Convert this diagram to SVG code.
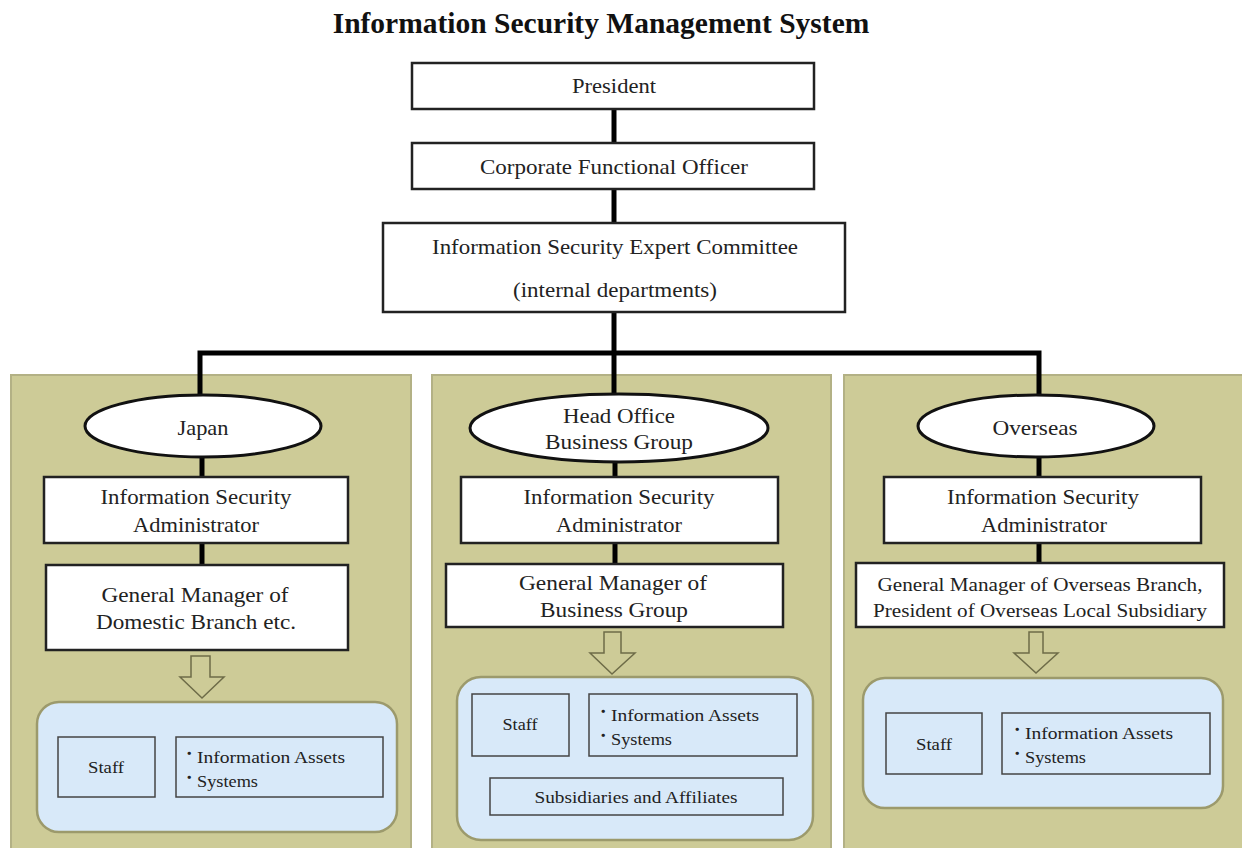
<svg xmlns="http://www.w3.org/2000/svg" width="1242" height="848" viewBox="0 0 1242 848">
<style>
text{font-family:"Liberation Serif","Times New Roman",serif;fill:#222;text-anchor:middle}
.title{font-size:29.5px;font-weight:bold;fill:#111}
.t{font-size:21px}
.s{font-size:17px}
.b{font-size:17px;font-family:"Noto Sans CJK JP","Liberation Serif",serif;text-anchor:start;font-weight:bold}
.gm{font-size:19px}
.box{fill:#fff;stroke:#222;stroke-width:2.5}
.panel{fill:#cdcb97;stroke:#b3b185;stroke-width:2}
.ell{fill:#fff;stroke:#111;stroke-width:3}
.blue{fill:#d8e9f9;stroke:#9c9a6c;stroke-width:2.5}
.inner{fill:#d8e9f9;stroke:#444;stroke-width:1.5}
.arrow{fill:#cdcb97;stroke:#6e6c48;stroke-width:1.5}
.conn{stroke:#000;stroke-width:5;fill:none}
.l{text-anchor:start}
</style>
<rect width="1242" height="848" fill="#fff"/>
<text class="title" x="601" y="33">Information Security Management System</text>

<g id="panels">
<rect class="panel" x="11" y="375" width="400" height="480"/>
<rect class="panel" x="432" y="375" width="399" height="480"/>
<rect class="panel" x="844" y="375" width="405" height="480"/>
</g>

<g id="connectors">
<line class="conn" x1="614" y1="108" x2="614" y2="143"/>
<line class="conn" x1="614" y1="189" x2="614" y2="223"/>
<line class="conn" x1="614" y1="312" x2="614" y2="395"/>
<polyline class="conn" points="200,395 200,353 1039,353 1039,395"/>
<line class="conn" x1="202" y1="457" x2="202" y2="477"/>
<line class="conn" x1="202" y1="543" x2="202" y2="565"/>
<line class="conn" x1="615" y1="462" x2="615" y2="477"/>
<line class="conn" x1="615" y1="543" x2="615" y2="564"/>
<line class="conn" x1="1039" y1="457" x2="1039" y2="477"/>
<line class="conn" x1="1039" y1="543" x2="1039" y2="563"/>
</g>

<g id="president">
<rect class="box" x="412" y="63" width="402" height="46"/>
<text class="t" x="614" y="93" textLength="84" lengthAdjust="spacingAndGlyphs">President</text>
</g>
<g id="cfo">
<rect class="box" x="412" y="143" width="402" height="46"/>
<text class="t" x="614" y="174" textLength="268" lengthAdjust="spacingAndGlyphs">Corporate Functional Officer</text>
</g>
<g id="committee">
<rect class="box" x="383" y="223" width="462" height="89"/>
<text class="t" x="615" y="254" textLength="366" lengthAdjust="spacingAndGlyphs">Information Security Expert Committee</text>
<text class="t" x="615" y="297" textLength="204" lengthAdjust="spacingAndGlyphs">(internal departments)</text>
</g>

<!-- Japan -->
<g id="japan">
<ellipse class="ell" cx="203" cy="426" rx="118" ry="31"/>
<text class="t" x="203" y="435" textLength="51" lengthAdjust="spacingAndGlyphs">Japan</text>
</g>
<g id="japan-isa">
<rect class="box" x="44" y="477" width="304" height="66"/>
<text class="t" x="196" y="504" textLength="191" lengthAdjust="spacingAndGlyphs">Information Security</text>
<text class="t" x="196" y="532" textLength="126" lengthAdjust="spacingAndGlyphs">Administrator</text>
</g>
<g id="japan-gm">
<rect class="box" x="46" y="565" width="302" height="85"/>
<text class="t" x="195" y="602" textLength="187" lengthAdjust="spacingAndGlyphs">General Manager of</text>
<text class="t" x="196" y="629" textLength="200" lengthAdjust="spacingAndGlyphs">Domestic Branch etc.</text>
</g>
<g id="japan-arrow">
<polygon class="arrow" points="191,656 210,656 210,677 224,677 202,698 180,677 191,677"/>
</g>
<g id="japan-targets">
<rect class="blue" x="37" y="702" width="360" height="130" rx="22"/>
<rect class="inner" x="58" y="737" width="97" height="60"/>
<text class="s" x="106" y="773" textLength="36" lengthAdjust="spacingAndGlyphs">Staff</text>
<rect class="inner" x="176" y="737" width="207" height="60"/>
<text class="b" x="185" y="760">･</text>
<text class="s l" x="197" y="763" textLength="148" lengthAdjust="spacingAndGlyphs">Information Assets</text>
<text class="b" x="185" y="784">･</text>
<text class="s l" x="197" y="787" textLength="61" lengthAdjust="spacingAndGlyphs">Systems</text>
</g>

<!-- Head office -->
<g id="headoffice">
<ellipse class="ell" cx="619" cy="428" rx="149" ry="34"/>
<text class="t" x="619" y="423" textLength="112" lengthAdjust="spacingAndGlyphs">Head Office</text>
<text class="t" x="619" y="449" textLength="148" lengthAdjust="spacingAndGlyphs">Business Group</text>
</g>
<g id="head-isa">
<rect class="box" x="461" y="477" width="317" height="66"/>
<text class="t" x="619" y="504" textLength="191" lengthAdjust="spacingAndGlyphs">Information Security</text>
<text class="t" x="619" y="532" textLength="126" lengthAdjust="spacingAndGlyphs">Administrator</text>
</g>
<g id="head-gm">
<rect class="box" x="446" y="564" width="337" height="63"/>
<text class="t" x="613" y="590" textLength="188" lengthAdjust="spacingAndGlyphs">General Manager of</text>
<text class="t" x="614" y="617" textLength="148" lengthAdjust="spacingAndGlyphs">Business Group</text>
</g>
<g id="head-arrow">
<polygon class="arrow" points="604,632 621,632 621,653 635,653 612,674 590,653 604,653"/>
</g>
<g id="head-targets">
<rect class="blue" x="457" y="677" width="356" height="163" rx="24"/>
<rect class="inner" x="472" y="694" width="97" height="62"/>
<text class="s" x="520" y="730" textLength="35" lengthAdjust="spacingAndGlyphs">Staff</text>
<rect class="inner" x="589" y="694" width="208" height="62"/>
<text class="b" x="599" y="718">･</text>
<text class="s l" x="611" y="721" textLength="148" lengthAdjust="spacingAndGlyphs">Information Assets</text>
<text class="b" x="599" y="742">･</text>
<text class="s l" x="611" y="745" textLength="61" lengthAdjust="spacingAndGlyphs">Systems</text>
<rect class="inner" x="490" y="778" width="293" height="37"/>
<text class="s" x="636" y="803" textLength="203" lengthAdjust="spacingAndGlyphs">Subsidiaries and Affiliates</text>
</g>

<!-- Overseas -->
<g id="overseas">
<ellipse class="ell" cx="1036" cy="426" rx="118" ry="31"/>
<text class="t" x="1035" y="435" textLength="85" lengthAdjust="spacingAndGlyphs">Overseas</text>
</g>
<g id="overseas-isa">
<rect class="box" x="884" y="477" width="317" height="66"/>
<text class="t" x="1043" y="504" textLength="192" lengthAdjust="spacingAndGlyphs">Information Security</text>
<text class="t" x="1044" y="532" textLength="126" lengthAdjust="spacingAndGlyphs">Administrator</text>
</g>
<g id="overseas-gm">
<rect class="box" x="856" y="563" width="368" height="64"/>
<text class="gm" x="1040" y="591" textLength="325" lengthAdjust="spacingAndGlyphs">General Manager of Overseas Branch,</text>
<text class="gm" x="1040" y="617" textLength="334" lengthAdjust="spacingAndGlyphs">President of Overseas Local Subsidiary</text>
</g>
<g id="overseas-arrow">
<polygon class="arrow" points="1029,632 1043,632 1043,653 1058,653 1036,673 1014,653 1029,653"/>
</g>
<g id="overseas-targets">
<rect class="blue" x="863" y="678" width="360" height="130" rx="22"/>
<rect class="inner" x="886" y="713" width="96" height="61"/>
<text class="s" x="934" y="750" textLength="36" lengthAdjust="spacingAndGlyphs">Staff</text>
<rect class="inner" x="1002" y="713" width="208" height="61"/>
<text class="b" x="1013" y="736">･</text>
<text class="s l" x="1025" y="739" textLength="148" lengthAdjust="spacingAndGlyphs">Information Assets</text>
<text class="b" x="1013" y="760">･</text>
<text class="s l" x="1025" y="763" textLength="61" lengthAdjust="spacingAndGlyphs">Systems</text>
</g>
</svg>
